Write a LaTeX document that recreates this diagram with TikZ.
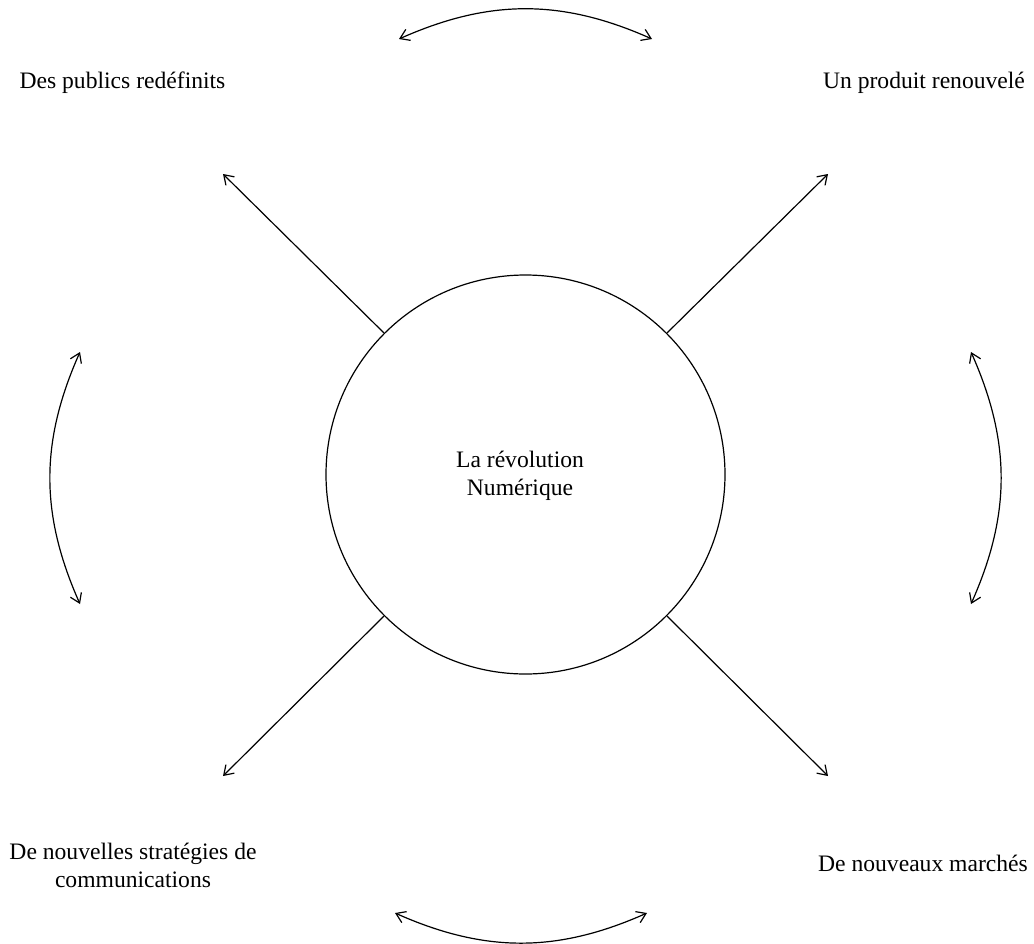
\documentclass[tikz,border=0pt]{standalone}
\usepackage{fontspec}
\setmainfont{Liberation Serif}
\usetikzlibrary{arrows.meta}
\begin{document}
\begin{tikzpicture}[x=1pt,y=-1pt,
  lbl/.style={font=\fontsize{23.6}{28}\selectfont, align=center, inner sep=0pt},
  ray/.style={line width=1.2pt, -{Straight Barb[length=9pt,width=12pt,line width=1.2pt]}},
  swing/.style={line width=1.2pt, {Straight Barb[length=9pt,width=12pt,line width=1.2pt]}-{Straight Barb[length=9pt,width=12pt,line width=1.2pt]}}
]
\useasboundingbox[fill=white] (0,0) rectangle (1034,943);
\node[circle, draw, line width=1.2pt, minimum size=399pt, inner sep=0pt] (c) at (525.5,474.5) {};
\node[lbl] (t) at (520,476) {La révolution\\Numérique};
\node[lbl] (nw) at (122.5,83) {Des publics redéfinits};
\node[lbl] (ne) at (924,83) {Un produit renouvelé};
\node[lbl] (sw) at (133,865) {De nouvelles stratégies de\\communications};
\node[lbl] (se) at (923,863) {De nouveaux marchés};
\coordinate (pnw) at (223,174);
\coordinate (pne) at (828,174);
\coordinate (psw) at (223,776);
\coordinate (pse) at (828,776);
\draw[ray] (c.135) -- (pnw);
\draw[ray] (c.45) -- (pne);
\draw[ray] (c.225) -- (psw);
\draw[ray] (c.315) -- (pse);
\coordinate (ta) at (399,39);
\coordinate (tb) at (652,39);
\coordinate (ba) at (395,913);
\coordinate (bb) at (647,913);
\coordinate (la) at (80,352);
\coordinate (lb) at (80,604);
\coordinate (ra) at (971,352);
\coordinate (rb) at (971,604);
\draw[swing] (ta) to[bend left=24] (tb);
\draw[swing] (ba) to[bend right=24] (bb);
\draw[swing] (la) to[bend right=24] (lb);
\draw[swing] (ra) to[bend left=24] (rb);
\end{tikzpicture}
\end{document}
